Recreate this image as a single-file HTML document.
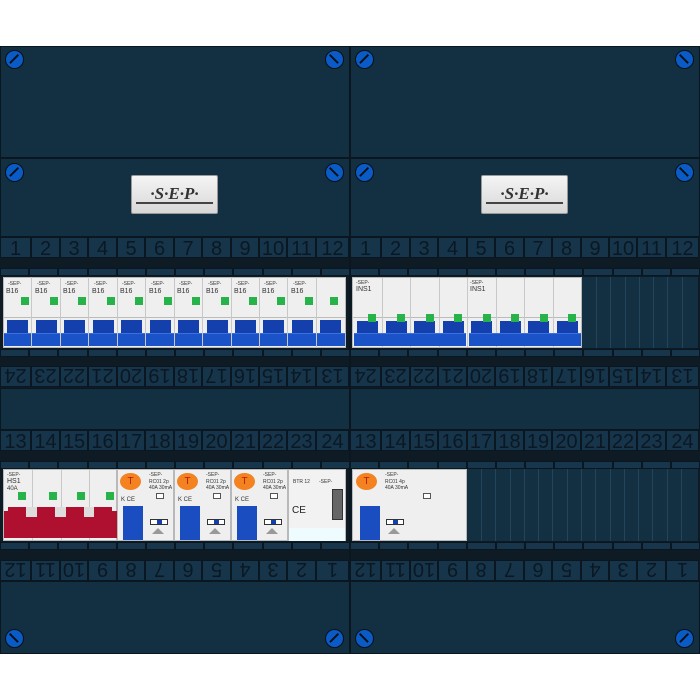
<!DOCTYPE html>
<html><head><style>
*{margin:0;padding:0;box-sizing:border-box}
body{width:700px;height:700px;background:#fff;position:relative;overflow:hidden;font-family:"Liberation Sans",sans-serif}
.a{position:absolute}
.cover{background:#132f42;border:1px solid #0a1620}
.scr{position:absolute;width:19px;height:19px;border-radius:50%;background:#0b5bc7;border:1.5px solid #061018}
.scr:after{content:"";position:absolute;left:2px;top:7px;width:12px;height:1.6px;background:#061018}
.s1:after{transform:rotate(-45deg)}.s2:after{transform:rotate(45deg)}
.row{position:absolute;display:flex;height:21px}
.row div{height:21px;background:#16354a;border:1px solid #0a1620;color:#0b1823;font-size:20px;line-height:22px;text-align:center}
.up{transform:rotate(180deg)}
.str{position:absolute;height:8px;display:flex}
.str div{height:8px;background:#17364b;border:1px solid #0a1620;flex:1}
.dev{position:absolute;background:#efefef;border:1px solid #b9b9b9}
.m{position:absolute;top:0;height:100%;border-left:1px solid #c8c8c8}
.g{position:absolute;width:8px;height:8px;background:#27b34a}
.bl{position:absolute;background:#1340ad}
.bb{position:absolute;background:#1a52c8;border-top:1px solid #3a70e0}
.t{position:absolute;font-size:5px;color:#333;line-height:5px;white-space:nowrap}
.gr{position:absolute;background:#ccc}
.logo{position:absolute;background:linear-gradient(#f4f4f4,#d8d8d8);border:1px solid #999;border-radius:2px;text-align:center;font-family:"Liberation Serif",serif;font-weight:bold;font-style:italic;color:#333;font-size:17px}
.empty{position:absolute;background:#132f42}
.vl{position:absolute;top:0;height:100%;width:1px;background:#234459}
</style></head><body>

<div class="a cover" style="left:0;top:46px;width:350px;height:112px"></div>
<div class="a cover" style="left:350px;top:46px;width:350px;height:112px"></div>
<div class="a cover" style="left:0;top:158px;width:350px;height:79px"></div>
<div class="a cover" style="left:350px;top:158px;width:350px;height:79px"></div>
<div class="a" style="left:0;top:237px;width:700px;height:345px;background:#0e1a24"></div>
<div class="a cover" style="left:0;top:388px;width:350px;height:42px"></div>
<div class="a cover" style="left:350px;top:388px;width:350px;height:42px"></div>
<div class="a cover" style="left:0;top:581px;width:350px;height:73px"></div>
<div class="a cover" style="left:350px;top:581px;width:350px;height:73px"></div>

<div class="scr s1" style="left:5px;top:50px"></div><div class="scr s2" style="left:325px;top:50px"></div>
<div class="scr s1" style="left:355px;top:50px"></div><div class="scr s2" style="left:675px;top:50px"></div>
<div class="scr s1" style="left:5px;top:163px"></div><div class="scr s2" style="left:325px;top:163px"></div>
<div class="scr s1" style="left:355px;top:163px"></div><div class="scr s2" style="left:675px;top:163px"></div>
<div class="scr s2" style="left:5px;top:629px"></div><div class="scr s1" style="left:325px;top:629px"></div>
<div class="scr s2" style="left:355px;top:629px"></div><div class="scr s1" style="left:675px;top:629px"></div>

<div class="logo" style="left:131px;top:175px;width:87px;height:39px;line-height:36px">·S·E·P·<div class="a" style="left:4px;right:4px;top:26px;height:2px;background:#444"></div></div>
<div class="logo" style="left:481px;top:175px;width:87px;height:39px;line-height:36px">·S·E·P·<div class="a" style="left:4px;right:4px;top:26px;height:2px;background:#444"></div></div>

<div class="row" style="left:0;top:237px"><div style="width:31px">1</div><div style="width:29px">2</div><div style="width:28px">3</div><div style="width:29px">4</div><div style="width:28px">5</div><div style="width:29px">6</div><div style="width:28px">7</div><div style="width:29px">8</div><div style="width:28px">9</div><div style="width:28px">10</div><div style="width:29px">11</div><div style="width:33px">12</div></div>
<div class="row" style="left:350px;top:237px"><div style="width:31px">1</div><div style="width:29px">2</div><div style="width:28px">3</div><div style="width:29px">4</div><div style="width:28px">5</div><div style="width:29px">6</div><div style="width:28px">7</div><div style="width:29px">8</div><div style="width:28px">9</div><div style="width:28px">10</div><div style="width:29px">11</div><div style="width:33px">12</div></div>
<div class="row up" style="left:0;top:366px"><div style="width:33px">13</div><div style="width:29px">14</div><div style="width:28px">15</div><div style="width:28px">16</div><div style="width:29px">17</div><div style="width:28px">18</div><div style="width:29px">19</div><div style="width:28px">20</div><div style="width:29px">21</div><div style="width:28px">22</div><div style="width:29px">23</div><div style="width:31px">24</div></div>
<div class="row up" style="left:350px;top:366px"><div style="width:33px">13</div><div style="width:29px">14</div><div style="width:28px">15</div><div style="width:28px">16</div><div style="width:29px">17</div><div style="width:28px">18</div><div style="width:29px">19</div><div style="width:28px">20</div><div style="width:29px">21</div><div style="width:28px">22</div><div style="width:29px">23</div><div style="width:31px">24</div></div>
<div class="row" style="left:0;top:430px"><div style="width:31px">13</div><div style="width:29px">14</div><div style="width:28px">15</div><div style="width:29px">16</div><div style="width:28px">17</div><div style="width:29px">18</div><div style="width:28px">19</div><div style="width:29px">20</div><div style="width:28px">21</div><div style="width:28px">22</div><div style="width:29px">23</div><div style="width:33px">24</div></div>
<div class="row" style="left:350px;top:430px"><div style="width:31px">13</div><div style="width:29px">14</div><div style="width:28px">15</div><div style="width:29px">16</div><div style="width:28px">17</div><div style="width:29px">18</div><div style="width:28px">19</div><div style="width:29px">20</div><div style="width:28px">21</div><div style="width:28px">22</div><div style="width:29px">23</div><div style="width:33px">24</div></div>
<div class="row up" style="left:0;top:560px"><div style="width:33px">1</div><div style="width:29px">2</div><div style="width:28px">3</div><div style="width:28px">4</div><div style="width:29px">5</div><div style="width:28px">6</div><div style="width:29px">7</div><div style="width:28px">8</div><div style="width:29px">9</div><div style="width:28px">10</div><div style="width:29px">11</div><div style="width:31px">12</div></div>
<div class="row up" style="left:350px;top:560px"><div style="width:33px">1</div><div style="width:29px">2</div><div style="width:28px">3</div><div style="width:28px">4</div><div style="width:29px">5</div><div style="width:28px">6</div><div style="width:29px">7</div><div style="width:28px">8</div><div style="width:29px">9</div><div style="width:28px">10</div><div style="width:29px">11</div><div style="width:31px">12</div></div>

<div class="str" style="left:0;top:268px;width:350px"><div></div><div></div><div></div><div></div><div></div><div></div><div></div><div></div><div></div><div></div><div></div><div></div></div>
<div class="str" style="left:350px;top:268px;width:350px"><div></div><div></div><div></div><div></div><div></div><div></div><div></div><div></div><div></div><div></div><div></div><div></div></div>
<div class="str" style="left:0;top:349px;width:350px"><div></div><div></div><div></div><div></div><div></div><div></div><div></div><div></div><div></div><div></div><div></div><div></div></div>
<div class="str" style="left:350px;top:349px;width:350px"><div></div><div></div><div></div><div></div><div></div><div></div><div></div><div></div><div></div><div></div><div></div><div></div></div>
<div class="str" style="left:0;top:461px;width:350px"><div></div><div></div><div></div><div></div><div></div><div></div><div></div><div></div><div></div><div></div><div></div><div></div></div>
<div class="str" style="left:350px;top:461px;width:350px"><div></div><div></div><div></div><div></div><div></div><div></div><div></div><div></div><div></div><div></div><div></div><div></div></div>
<div class="str" style="left:0;top:542px;width:350px"><div></div><div></div><div></div><div></div><div></div><div></div><div></div><div></div><div></div><div></div><div></div><div></div></div>
<div class="str" style="left:350px;top:542px;width:350px"><div></div><div></div><div></div><div></div><div></div><div></div><div></div><div></div><div></div><div></div><div></div><div></div></div>
<div class="a" style="left:349px;top:46px;width:2px;height:608px;background:#0a1620"></div>

<!-- top-left MCBs -->
<div class="dev" style="left:3px;top:277px;width:343px;height:71px">
 <div class="gr" style="left:0;right:0;top:39px;height:1px;background:#bbb"></div>
 <div class="bb" style="left:0;right:0;top:55px;height:13px"></div>
</div>
<div class="a" style="left:3px;top:277px;width:343px;height:71px">
 <div class="m" style="left:28px"></div><div class="m" style="left:57px"></div><div class="m" style="left:85px"></div><div class="m" style="left:114px"></div><div class="m" style="left:142px"></div><div class="m" style="left:171px"></div><div class="m" style="left:199px"></div><div class="m" style="left:228px"></div><div class="m" style="left:256px"></div><div class="m" style="left:284px"></div><div class="m" style="left:313px"></div>
</div>
<div class="a" style="left:3px;top:277px">
 <div class="t" style="left:5px;top:5px">-SEP-</div><div class="t" style="left:3px;top:12px;font-size:7px">B16</div><div class="g" style="left:18px;top:20px"></div><div class="bl" style="left:4px;top:43px;width:21px;height:13px"></div>
 <div class="t" style="left:34px;top:5px">-SEP-</div><div class="t" style="left:32px;top:12px;font-size:7px">B16</div><div class="g" style="left:47px;top:20px"></div><div class="bl" style="left:33px;top:43px;width:21px;height:13px"></div>
 <div class="t" style="left:62px;top:5px">-SEP-</div><div class="t" style="left:60px;top:12px;font-size:7px">B16</div><div class="g" style="left:75px;top:20px"></div><div class="bl" style="left:61px;top:43px;width:21px;height:13px"></div>
 <div class="t" style="left:91px;top:5px">-SEP-</div><div class="t" style="left:89px;top:12px;font-size:7px">B16</div><div class="g" style="left:104px;top:20px"></div><div class="bl" style="left:90px;top:43px;width:21px;height:13px"></div>
 <div class="t" style="left:119px;top:5px">-SEP-</div><div class="t" style="left:117px;top:12px;font-size:7px">B16</div><div class="g" style="left:132px;top:20px"></div><div class="bl" style="left:118px;top:43px;width:21px;height:13px"></div>
 <div class="t" style="left:148px;top:5px">-SEP-</div><div class="t" style="left:146px;top:12px;font-size:7px">B16</div><div class="g" style="left:161px;top:20px"></div><div class="bl" style="left:147px;top:43px;width:21px;height:13px"></div>
 <div class="t" style="left:176px;top:5px">-SEP-</div><div class="t" style="left:174px;top:12px;font-size:7px">B16</div><div class="g" style="left:189px;top:20px"></div><div class="bl" style="left:175px;top:43px;width:21px;height:13px"></div>
 <div class="t" style="left:205px;top:5px">-SEP-</div><div class="t" style="left:203px;top:12px;font-size:7px">B16</div><div class="g" style="left:218px;top:20px"></div><div class="bl" style="left:204px;top:43px;width:21px;height:13px"></div>
 <div class="t" style="left:233px;top:5px">-SEP-</div><div class="t" style="left:231px;top:12px;font-size:7px">B16</div><div class="g" style="left:246px;top:20px"></div><div class="bl" style="left:232px;top:43px;width:21px;height:13px"></div>
 <div class="t" style="left:261px;top:5px">-SEP-</div><div class="t" style="left:259px;top:12px;font-size:7px">B16</div><div class="g" style="left:274px;top:20px"></div><div class="bl" style="left:260px;top:43px;width:21px;height:13px"></div>
 <div class="t" style="left:290px;top:5px">-SEP-</div><div class="t" style="left:288px;top:12px;font-size:7px">B16</div><div class="g" style="left:302px;top:20px"></div><div class="bl" style="left:289px;top:43px;width:21px;height:13px"></div>
 <div class="g" style="left:327px;top:20px"></div><div class="bl" style="left:317px;top:43px;width:21px;height:13px"></div>
</div>

<!-- top-right RCBOs -->
<div class="dev" style="left:352px;top:277px;width:230px;height:71px">
 <div class="gr" style="left:0;right:0;top:39px;height:1px;background:#bbb"></div>
 <div class="m" style="left:29px"></div><div class="m" style="left:57px"></div><div class="m" style="left:86px"></div><div class="m" style="left:114px"></div><div class="m" style="left:143px"></div><div class="m" style="left:171px"></div><div class="m" style="left:200px"></div>
 <div class="t" style="left:3px;top:3px">-SEP-</div><div class="t" style="left:3px;top:9px;font-size:7px">INS1</div>
 <div class="t" style="left:117px;top:3px">-SEP-</div><div class="t" style="left:117px;top:9px;font-size:7px">INS1</div>
 <div class="bl" style="left:4px;top:43px;width:21px;height:13px"></div><div class="bl" style="left:33px;top:43px;width:21px;height:13px"></div><div class="bl" style="left:61px;top:43px;width:21px;height:13px"></div><div class="bl" style="left:90px;top:43px;width:21px;height:13px"></div>
 <div class="bl" style="left:118px;top:43px;width:21px;height:13px"></div><div class="bl" style="left:147px;top:43px;width:21px;height:13px"></div><div class="bl" style="left:175px;top:43px;width:21px;height:13px"></div><div class="bl" style="left:204px;top:43px;width:21px;height:13px"></div>
 <div class="bb" style="left:1px;width:112px;top:55px;height:13px"></div><div class="bb" style="left:116px;width:112px;top:55px;height:13px"></div>
</div>
<div class="a" style="left:352px;top:277px">
 <div class="g" style="left:16px;top:37px"></div><div class="g" style="left:45px;top:37px"></div><div class="g" style="left:74px;top:37px"></div><div class="g" style="left:102px;top:37px"></div>
 <div class="g" style="left:131px;top:37px"></div><div class="g" style="left:159px;top:37px"></div><div class="g" style="left:188px;top:37px"></div><div class="g" style="left:216px;top:37px"></div>
</div>
<div class="empty" style="left:582px;top:277px;width:116px;height:71px">
 <div class="vl" style="left:14px"></div><div class="vl" style="left:28px"></div><div class="vl" style="left:43px"></div><div class="vl" style="left:57px"></div><div class="vl" style="left:71px"></div><div class="vl" style="left:85px"></div><div class="vl" style="left:100px"></div>
</div>

<!-- bottom-left -->
<div class="dev" style="left:3px;top:469px;width:114px;height:72px">
 <div class="m" style="left:28px"></div><div class="m" style="left:57px"></div><div class="m" style="left:85px"></div>
 <div class="t" style="left:3px;top:3px">-SEP-</div><div class="t" style="left:3px;top:9px;font-size:7px">HS1</div><div class="t" style="left:3px;top:17px;font-size:6px">40A</div>
 <div class="g" style="left:14px;top:22px"></div><div class="g" style="left:45px;top:22px"></div><div class="g" style="left:73px;top:22px"></div><div class="g" style="left:102px;top:22px"></div>
 <div class="a" style="left:0;top:41px;width:113px;height:27px;background:#b01030"></div>
 <div class="a" style="left:4px;top:37px;width:18px;height:6px;background:#b01030"></div><div class="a" style="left:33px;top:37px;width:18px;height:6px;background:#b01030"></div><div class="a" style="left:62px;top:37px;width:18px;height:6px;background:#b01030"></div><div class="a" style="left:90px;top:37px;width:18px;height:6px;background:#b01030"></div>
 <div class="a" style="left:22px;top:37px;width:11px;height:10px;background:#ddd"></div><div class="a" style="left:51px;top:37px;width:11px;height:10px;background:#ddd"></div><div class="a" style="left:80px;top:37px;width:10px;height:10px;background:#ddd"></div>
</div>

<div class="dev" style="left:117px;top:469px;width:57px;height:72px">
 <div class="a" style="left:2px;top:3px;width:21px;height:17px;border-radius:50%;background:#f58220;color:#b0200c;font-size:10px;text-align:center;line-height:17px">T</div>
 <div class="t" style="left:31px;top:3px">-SEP-</div><div class="t" style="left:31px;top:10px">RC01 2p</div><div class="t" style="left:31px;top:16px">40A 30mA</div>
 <div class="a" style="left:38px;top:23px;width:8px;height:6px;border:1px solid #555;background:#fff"></div>
 <div class="t" style="left:3px;top:28px;font-size:6px">K CE</div>
 <div class="bl" style="left:5px;top:36px;width:20px;height:34px;background:#1a4ec0"></div>
 <div class="a" style="left:32px;top:49px;width:18px;height:6px;border:1px solid #333;background:#fff"></div><div class="a" style="left:39px;top:50px;width:5px;height:4px;background:#1340ad"></div>
 <div class="a" style="left:34px;top:58px;width:0;height:0;border-left:6px solid transparent;border-right:6px solid transparent;border-bottom:6px solid #999"></div>
</div>
<div class="dev" style="left:174px;top:469px;width:57px;height:72px">
 <div class="a" style="left:2px;top:3px;width:21px;height:17px;border-radius:50%;background:#f58220;color:#b0200c;font-size:10px;text-align:center;line-height:17px">T</div>
 <div class="t" style="left:31px;top:3px">-SEP-</div><div class="t" style="left:31px;top:10px">RC01 2p</div><div class="t" style="left:31px;top:16px">40A 30mA</div>
 <div class="a" style="left:38px;top:23px;width:8px;height:6px;border:1px solid #555;background:#fff"></div>
 <div class="t" style="left:3px;top:28px;font-size:6px">K CE</div>
 <div class="bl" style="left:5px;top:36px;width:20px;height:34px;background:#1a4ec0"></div>
 <div class="a" style="left:32px;top:49px;width:18px;height:6px;border:1px solid #333;background:#fff"></div><div class="a" style="left:39px;top:50px;width:5px;height:4px;background:#1340ad"></div>
 <div class="a" style="left:34px;top:58px;width:0;height:0;border-left:6px solid transparent;border-right:6px solid transparent;border-bottom:6px solid #999"></div>
</div>
<div class="dev" style="left:231px;top:469px;width:57px;height:72px">
 <div class="a" style="left:2px;top:3px;width:21px;height:17px;border-radius:50%;background:#f58220;color:#b0200c;font-size:10px;text-align:center;line-height:17px">T</div>
 <div class="t" style="left:31px;top:3px">-SEP-</div><div class="t" style="left:31px;top:10px">RC01 2p</div><div class="t" style="left:31px;top:16px">40A 30mA</div>
 <div class="a" style="left:38px;top:23px;width:8px;height:6px;border:1px solid #555;background:#fff"></div>
 <div class="t" style="left:3px;top:28px;font-size:6px">K CE</div>
 <div class="bl" style="left:5px;top:36px;width:20px;height:34px;background:#1a4ec0"></div>
 <div class="a" style="left:32px;top:49px;width:18px;height:6px;border:1px solid #333;background:#fff"></div><div class="a" style="left:39px;top:50px;width:5px;height:4px;background:#1340ad"></div>
 <div class="a" style="left:34px;top:58px;width:0;height:0;border-left:6px solid transparent;border-right:6px solid transparent;border-bottom:6px solid #999"></div>
</div>
<div class="dev" style="left:288px;top:469px;width:58px;height:72px;background:#f2f2f2">
 <div class="t" style="left:4px;top:10px">BTR 12</div><div class="t" style="left:30px;top:10px">-SEP-</div>
 <div class="t" style="left:3px;top:36px;font-size:10px;color:#222;line-height:10px">CE</div>
 <div class="a" style="left:43px;top:19px;width:11px;height:31px;background:#666;border:1px solid #333"></div>
 <div class="a" style="left:0;right:0;top:58px;height:13px;background:#eefcff"></div>
</div>

<div class="dev" style="left:352px;top:469px;width:115px;height:72px">
 <div class="a" style="left:3px;top:3px;width:21px;height:17px;border-radius:50%;background:#f58220;color:#b0200c;font-size:10px;text-align:center;line-height:17px">T</div>
 <div class="t" style="left:32px;top:3px">-SEP-</div><div class="t" style="left:32px;top:10px">RC01 4p</div><div class="t" style="left:32px;top:16px">40A 30mA</div>
 <div class="a" style="left:70px;top:23px;width:8px;height:6px;border:1px solid #555;background:#fff"></div>
 <div class="bl" style="left:7px;top:36px;width:20px;height:34px;background:#1a4ec0"></div>
 <div class="a" style="left:33px;top:49px;width:18px;height:6px;border:1px solid #333;background:#fff"></div><div class="a" style="left:40px;top:50px;width:5px;height:4px;background:#1340ad"></div>
 <div class="a" style="left:35px;top:58px;width:0;height:0;border-left:6px solid transparent;border-right:6px solid transparent;border-bottom:6px solid #999"></div>
</div>
<div class="empty" style="left:467px;top:469px;width:231px;height:72px">
 <div class="vl" style="left:14px"></div><div class="vl" style="left:28px"></div><div class="vl" style="left:43px"></div><div class="vl" style="left:57px"></div><div class="vl" style="left:71px"></div><div class="vl" style="left:85px"></div><div class="vl" style="left:100px"></div><div class="vl" style="left:114px"></div><div class="vl" style="left:128px"></div><div class="vl" style="left:143px"></div><div class="vl" style="left:157px"></div><div class="vl" style="left:171px"></div><div class="vl" style="left:185px"></div><div class="vl" style="left:200px"></div><div class="vl" style="left:214px"></div>
</div>
</body></html>
